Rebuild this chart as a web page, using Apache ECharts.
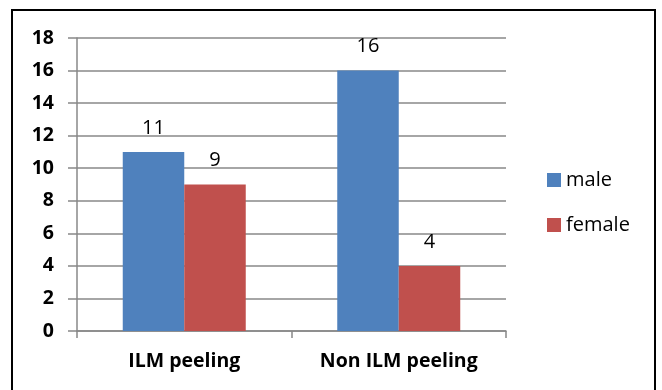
<!DOCTYPE html>
<html>
<head>
<meta charset="utf-8">
<script src="https://cdn.jsdelivr.net/npm/echarts@6/dist/echarts.min.js"></script>
<style>
  html, body { margin: 0; padding: 0; background: #fff; }
  #chart { width: 662px; height: 390px; }
</style>
</head>
<body>
<div id="chart"></div>
<script>
const categories = ['ILM peeling', 'Non ILM peeling']
const maleValues = [11, 16]
const femaleValues = [9, 4]

const chart = echarts.init(document.getElementById('chart'))
const font = '"Open Sans", sans-serif'
const gridColor = '#888'

const option = {
  animation: false,
  textStyle: { fontFamily: font },
  graphic: [{
    type: 'rect',
    shape: { x: 12, y: 10, width: 643, height: 392 },
    style: { fill: 'none', stroke: '#000', lineWidth: 2 },
    silent: true
  }],
  grid: { left: 77, right: 156, top: 38, bottom: 59 },
  legend: {
    orient: 'vertical',
    left: 542,
    top: 162,
    itemWidth: 14,
    itemHeight: 14,
    itemGap: 19,
    icon: 'rect',
    textStyle: { fontFamily: font, fontSize: 20, color: '#000', lineHeight: 26 },
    data: ['male', 'female']
  },
  xAxis: {
    type: 'category',
    data: categories,
    axisLine: { lineStyle: { color: gridColor, width: 1.5 } },
    axisTick: { show: true, length: 7, lineStyle: { color: gridColor, width: 1.5 } },
    axisLabel: { fontFamily: font, fontSize: 19.5, fontWeight: 'bold', color: '#000', margin: 20 }
  },
  yAxis: {
    type: 'value',
    min: 0,
    max: 18,
    interval: 2,
    axisLine: { show: true, lineStyle: { color: gridColor, width: 1.5 } },
    axisTick: { show: true, length: 9, lineStyle: { color: gridColor, width: 1.5 } },
    splitLine: { show: true, lineStyle: { color: gridColor, width: 1.5 } },
    axisLabel: { fontFamily: font, fontSize: 19.5, fontWeight: 'bold', color: '#000', margin: 23 }
  },
  series: [
    {
      name: 'male',
      type: 'bar',
      data: maleValues,
      barWidth: 61.5,
      barGap: '0%',
      itemStyle: { color: '#4F81BD' },
      label: { show: true, position: 'top', distance: 14, fontFamily: font, fontSize: 20, color: '#000' }
    },
    {
      name: 'female',
      type: 'bar',
      data: femaleValues,
      barWidth: 61.5,
      barGap: '0%',
      itemStyle: { color: '#C0504D' },
      label: { show: true, position: 'top', distance: 14, fontFamily: font, fontSize: 20, color: '#000' }
    }
  ]
}

chart.setOption(option)
</script>
</body>
</html>
